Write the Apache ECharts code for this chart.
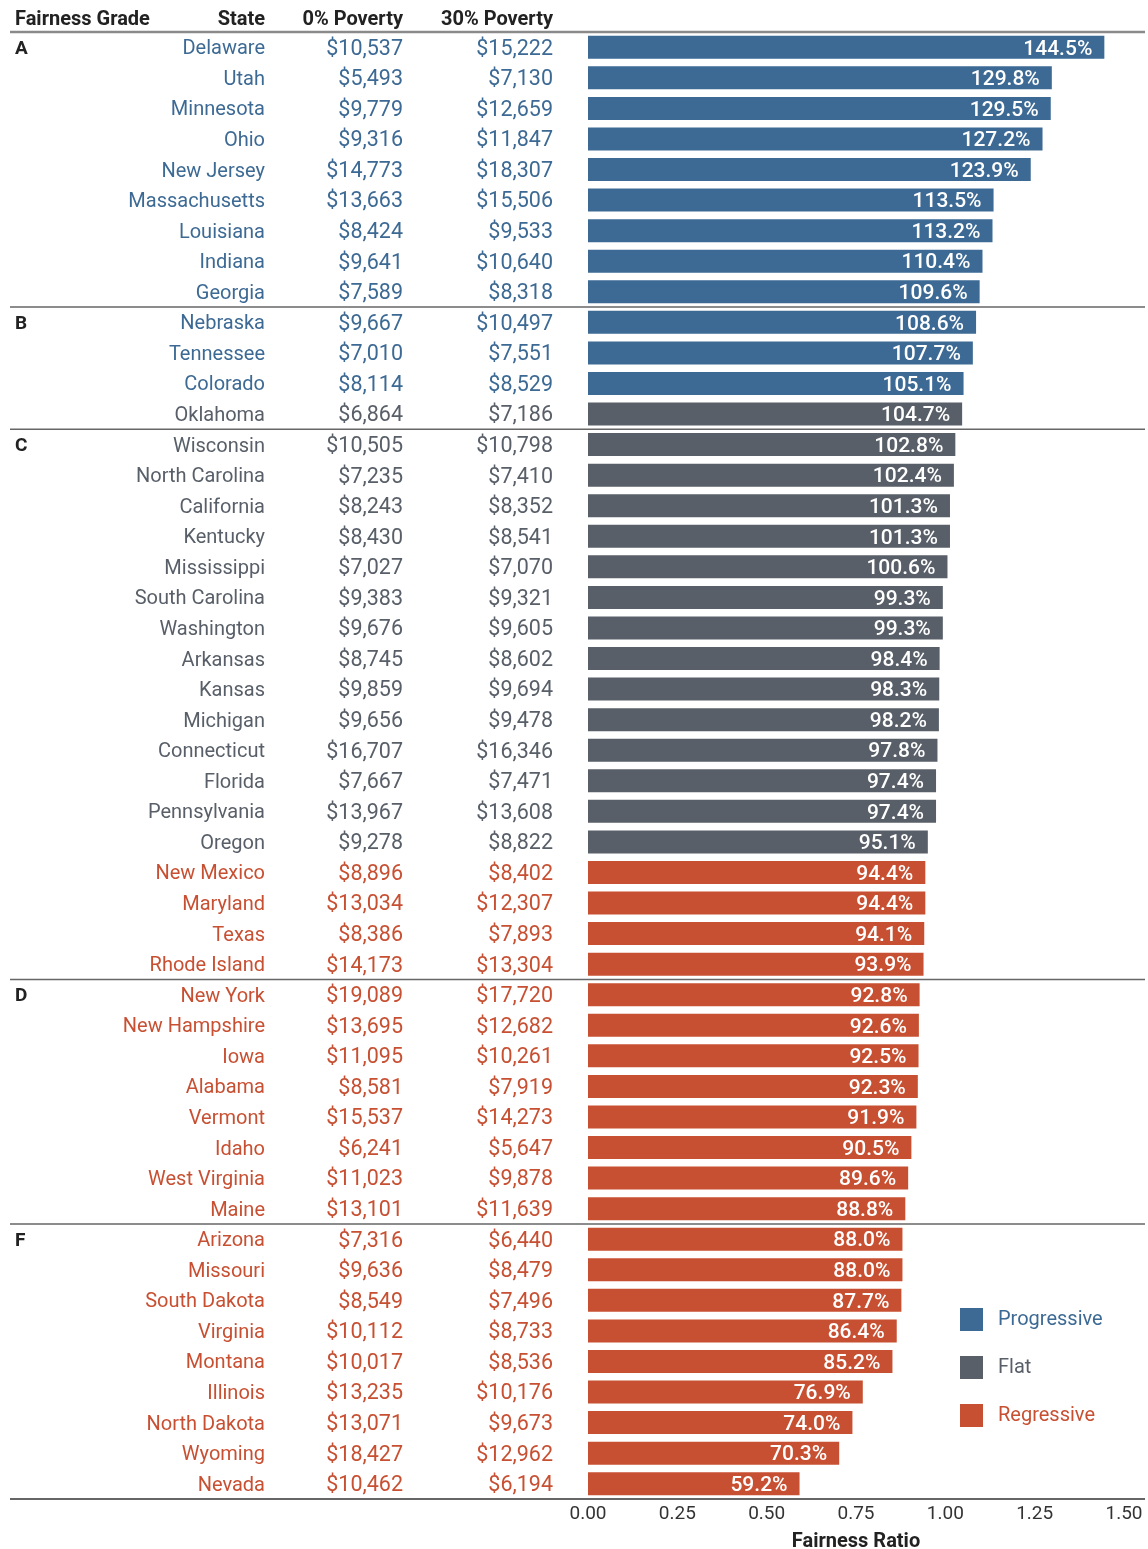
<!DOCTYPE html>
<html><head><meta charset="utf-8">
<script src="https://cdn.jsdelivr.net/npm/echarts@6/dist/echarts.min.js"></script>
<style>html,body{margin:0;padding:0;background:#fff}#c{width:1148px;height:1549px}</style>
</head><body><div id="c"></div>
<script>
const states = ["Delaware","Utah","Minnesota","Ohio","New Jersey","Massachusetts","Louisiana","Indiana","Georgia",
"Nebraska","Tennessee","Colorado","Oklahoma",
"Wisconsin","North Carolina","California","Kentucky","Mississippi","South Carolina","Washington","Arkansas","Kansas","Michigan","Connecticut","Florida","Pennsylvania","Oregon","New Mexico","Maryland","Texas","Rhode Island",
"New York","New Hampshire","Iowa","Alabama","Vermont","Idaho","West Virginia","Maine",
"Arizona","Missouri","South Dakota","Virginia","Montana","Illinois","North Dakota","Wyoming","Nevada"];
const grades = ["A","A","A","A","A","A","A","A","A","B","B","B","B",
"C","C","C","C","C","C","C","C","C","C","C","C","C","C","C","C","C","C",
"D","D","D","D","D","D","D","D","F","F","F","F","F","F","F","F","F"];
const poverty0 = [10537,5493,9779,9316,14773,13663,8424,9641,7589,9667,7010,8114,6864,
10505,7235,8243,8430,7027,9383,9676,8745,9859,9656,16707,7667,13967,9278,8896,13034,8386,14173,
19089,13695,11095,8581,15537,6241,11023,13101,7316,9636,8549,10112,10017,13235,13071,18427,10462];
const poverty30 = [15222,7130,12659,11847,18307,15506,9533,10640,8318,10497,7551,8529,7186,
10798,7410,8352,8541,7070,9321,9605,8602,9694,9478,16346,7471,13608,8822,8402,12307,7893,13304,
17720,12682,10261,7919,14273,5647,9878,11639,6440,8479,7496,8733,8536,10176,9673,12962,6194];
const ratios = [1.445,1.298,1.295,1.272,1.239,1.135,1.132,1.104,1.096,1.086,1.077,1.051,1.047,
1.028,1.024,1.013,1.013,1.006,0.993,0.993,0.984,0.983,0.982,0.978,0.974,0.974,0.951,0.944,0.944,0.941,0.939,
0.928,0.926,0.925,0.923,0.919,0.905,0.896,0.888,0.880,0.880,0.877,0.864,0.852,0.769,0.740,0.703,0.592];
const categories = ["Progressive","Flat","Regressive"];
const rowCategory = ["P","P","P","P","P","P","P","P","P","P","P","P","F",
"F","F","F","F","F","F","F","F","F","F","F","F","F","F","R","R","R","R",
"R","R","R","R","R","R","R","R","R","R","R","R","R","R","R","R","R"];
const xTicks = [0,0.25,0.5,0.75,1.0,1.25,1.5];
const headers = ["Fairness Grade","State","0% Poverty","30% Poverty"];
const axisTitle = "Fairness Ratio";

const COL = {P:"#3d6a94", F:"#585f68", R:"#c85032"};
const catKey = {Progressive:"P", Flat:"F", Regressive:"R"};
const FONT = "Roboto";
const fmtMoney = v => "$" + v.toLocaleString("en-US");
function richFor(size){
  const o = {};
  ["P","F","R"].forEach(k=>o[k]={color:COL[k],fontSize:size,fontFamily:FONT,padding:[4,0,0,0]});
  return o;
}
function colAxis(offset, size, fn){
  return {type:"category", data:states, inverse:true, gridIndex:0, position:"left", offset:offset,
    axisLine:{show:false}, axisTick:{show:false}, splitLine:{show:false},
    axisLabel:{interval:0, margin:8, rich:richFor(size), formatter:(v,i)=>"{"+rowCategory[i]+"|"+fn(i)+"}"}};
}
const yAxes = [
  colAxis(315, 20, i=>states[i]),
  colAxis(177, 21.5, i=>fmtMoney(poverty0[i])),
  colAxis(27, 21.5, i=>fmtMoney(poverty30[i])),
  {type:"category", data:states, inverse:true, gridIndex:0, position:"left", offset:573,
    axisLine:{show:false}, axisTick:{show:false},
    axisLabel:{interval:0, margin:0, align:"left",
      rich:{g:{fontSize:19, fontWeight:"bold", color:"#222", fontFamily:FONT, padding:[4,0,0,0]}},
      formatter:(v,i)=> (i===0||grades[i]!==grades[i-1]) ? "{g|"+grades[i]+"}" : ""}}
];
const series = categories.map(c=>({
  name:c, type:"bar", stack:"s", yAxisIndex:0, barWidth:23,
  itemStyle:{color:COL[catKey[c]]},
  data: ratios.map((r,i)=> rowCategory[i]===catKey[c] ? r : "-"),
  label:{show:true, position:"insideRight", distance:12, offset:[0,2], color:"#fff", fontSize:21, fontWeight:500, fontFamily:FONT,
    formatter:p=>(p.value*100).toFixed(1)+"%"}
}));
const chart = echarts.init(document.getElementById("c"), null, {renderer:"canvas"});
const option = {
  animation:false,
  textStyle:{fontFamily:FONT},
  grid:{left:588, right:24, top:32, bottom:50, containLabel:false, outerBoundsMode:"none"},
  xAxis:{type:"value", min:0, max:1.5, interval:0.25,
    axisLine:{show:false}, axisTick:{show:false}, splitLine:{show:false},
    axisLabel:{color:"#333", fontSize:19, margin:6, fontFamily:FONT, formatter:v=>v.toFixed(2)},
    name:axisTitle, nameLocation:"middle", nameGap:33,
    nameTextStyle:{fontSize:20, fontWeight:"bold", color:"#222", fontFamily:FONT}},
  yAxis:yAxes,
  legend:{orient:"vertical", left:960, top:1308, padding:0, itemWidth:23, itemHeight:23, itemGap:25, icon:"rect", selectedMode:false,
    data:categories.map(c=>({name:c, textStyle:{color:COL[catKey[c]]}})),
    textStyle:{fontSize:20, fontFamily:FONT, padding:[0,0,0,10]}},
  series:series
};
chart.setOption(option);

// separators and headers placed via library scales
const graphics = [];
const yOf = i => chart.convertToPixel({yAxisIndex:0}, states[i]);
const band = yOf(1)-yOf(0);
const lineAt = (y, color, w) => graphics.push({type:"line", shape:{x1:10,y1:y,x2:1145,y2:y}, style:{stroke:color, lineWidth:w}, z:10});
lineAt(yOf(0)-band/2, "#8a8a8a", 2.5);
for(let i=1;i<states.length;i++){ if(grades[i]!==grades[i-1]) lineAt((yOf(i-1)+yOf(i))/2, "#666", 1.5); }
lineAt(yOf(states.length-1)+band/2, "#333", 1.5);
const hy = yOf(0)-band/2-12;
const hdrX = [15,265,403,553], hdrAlign=["left","right","right","right"];
headers.forEach((h,k)=>graphics.push({type:"text", x:hdrX[k], y:hy,
  style:{text:h, fontSize:20, fontWeight:"bold", fill:"#222", fontFamily:FONT, align:hdrAlign[k], verticalAlign:"middle"}}));
chart.setOption({graphic:graphics});
</script></body></html>
